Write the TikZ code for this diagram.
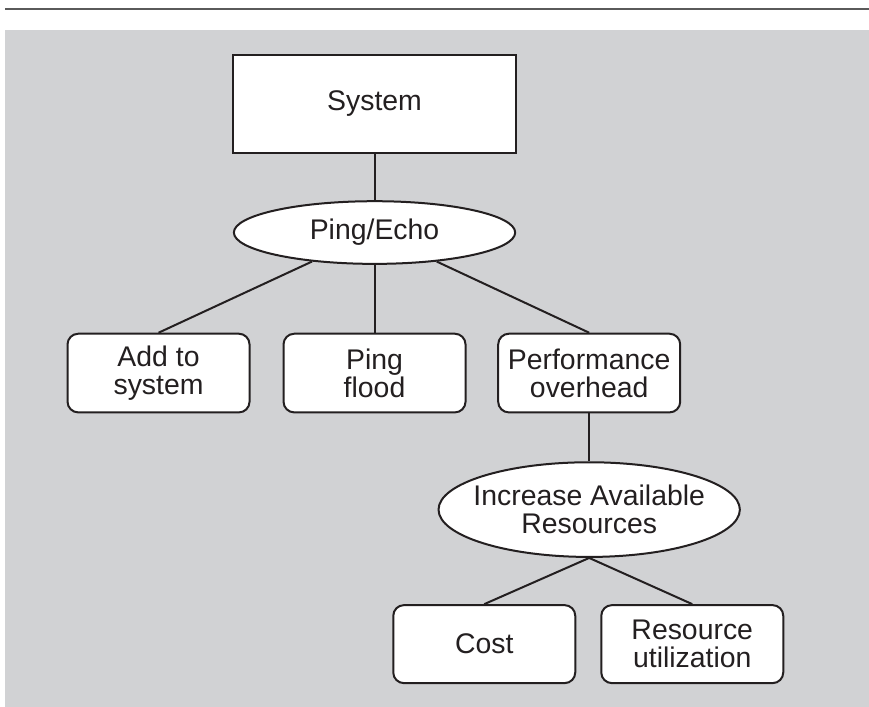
\documentclass[tikz,border=0pt]{standalone}
\usepackage{fontspec}
\setmainfont{Liberation Sans}
\usepackage{xcolor}
\usetikzlibrary{shapes.geometric}
\definecolor{panelgray}{HTML}{D1D2D4}
\definecolor{inkdark}{HTML}{231F20}
\definecolor{rulegray}{HTML}{5A5A5A}

\begin{document}
\begin{tikzpicture}[
    node distance=100pt,
    every node/.style={font=\fontsize{21.3}{21.3}\selectfont, text=inkdark, align=center},
    sysbox/.style={rectangle, draw=inkdark, fill=white, line width=1.7pt, minimum width=212pt, minimum height=73.5pt},
    oval/.style={ellipse, draw=inkdark, fill=white, line width=1.5pt, inner sep=0pt, inner xsep=-8pt, minimum width=211pt, minimum height=47pt},
    leaf/.style={rectangle, draw=inkdark, fill=white, rounded corners=8pt, line width=1.5pt, minimum width=136.5pt, minimum height=59pt},
    link/.style={draw=inkdark, line width=1.5pt}
]
% page frame
\useasboundingbox (0pt,0pt) rectangle (651.75pt,-530.25pt);
\fill[panelgray] (3.75pt,-22.5pt) rectangle (651.75pt,-530.25pt);
\draw[rulegray, line width=1.1pt] (3.75pt,-6.75pt) -- (651.75pt,-6.75pt);

\node[sysbox] (system) at (280.9pt,-78pt) {System};
\node[oval, below of=system, node distance=96.4pt] (ping) {Ping/Echo};
\node[leaf, below of=ping, node distance=105.4pt] (flood) {Ping\\flood};
\node[leaf, left of=flood, node distance=162pt] (add) {Add to\\system};
\node[leaf, right of=flood, node distance=161pt] (perf) {Performance\\overhead};
\node[oval, below of=perf, node distance=102.4pt, minimum width=226pt, minimum height=71pt] (inc) {Increase Available\\Resources};
\node[leaf, below of=inc, node distance=100.9pt, xshift=-78.7pt, minimum height=58.5pt] (cost) {Cost};
\node[leaf, right of=cost, node distance=156pt, minimum height=58.5pt] (res) {Resource\\utilization};

\draw[link] (system) -- (ping);
\draw[link] (ping) -- (add.north);
\draw[link] (ping) -- (flood.north);
\draw[link] (ping) -- (perf.north);
\draw[link] (perf) -- (inc);
\draw[link] (inc.south) -- (cost.north);
\draw[link] (inc.south) -- (res.north);
\end{tikzpicture}
\end{document}
